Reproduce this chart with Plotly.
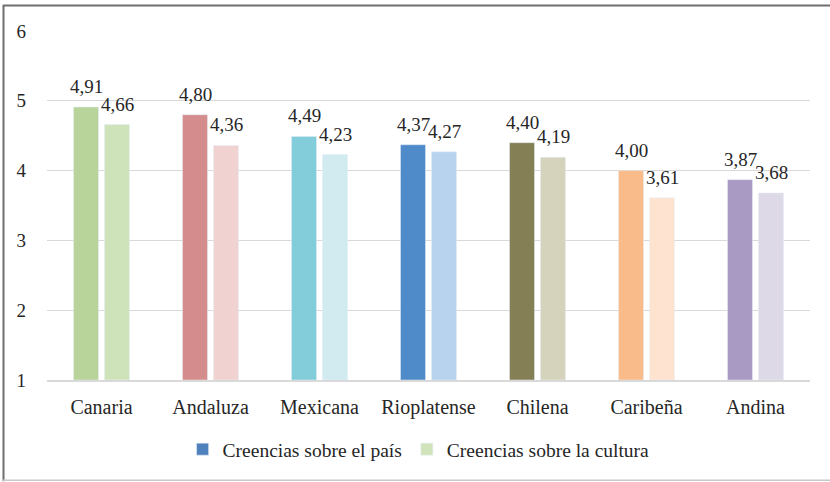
import plotly.graph_objects as go

categories = ["Canaria", "Andaluza", "Mexicana", "Rioplatense", "Chilena", "Caribeña", "Andina"]
pais = [4.91, 4.80, 4.49, 4.37, 4.40, 4.00, 3.87]
cultura = [4.66, 4.36, 4.23, 4.27, 4.19, 3.61, 3.68]
series_names = ["Creencias sobre el país", "Creencias sobre la cultura"]

pais_colors = ["#B8D49B", "#D48D8C", "#82CDD9", "#4F8AC9", "#857F56", "#F9BB89", "#A99AC3"]
cultura_colors = ["#CFE3BA", "#F0D2D0", "#D1EBF1", "#B8D3ED", "#D6D3BC", "#FDE3D0", "#DED9E6"]
legend_colors = ["#4F81BD", "#D0E3BA"]

FONT = "Liberation Serif"
TXT = "#262626"

fig = go.Figure()
fig.add_trace(go.Bar(x=categories, y=[v - 1 for v in pais], base=1, marker_color=pais_colors,
                     offsetgroup="a", showlegend=False, hoverinfo="skip"))
fig.add_trace(go.Bar(x=categories, y=[v - 1 for v in cultura], base=1, marker_color=cultura_colors,
                     offsetgroup="b", showlegend=False, hoverinfo="skip"))
# legend-only entries
fig.add_trace(go.Bar(x=[categories[0]], y=[None], name=series_names[0], marker_color=legend_colors[0],
                     offsetgroup="a"))
fig.add_trace(go.Bar(x=[categories[0]], y=[None], name=series_names[1], marker_color=legend_colors[1],
                     offsetgroup="b"))

def fmt(v):
    return f"{v:.2f}".replace(".", ",")

annotations = []
for cat, a, b in zip(categories, pais, cultura):
    for val, shift in ((a, -15.5), (b, 15.5)):
        annotations.append(dict(x=cat, y=val, xref="x", yref="y", text=fmt(val), showarrow=False,
                                xshift=shift, yanchor="bottom", yshift=8,
                                font=dict(family=FONT, size=19, color=TXT)))

fig.update_layout(
    width=830, height=482,
    margin=dict(l=47, r=20, t=30.5, b=101.5),
    paper_bgcolor="white", plot_bgcolor="white",
    barmode="group", bargap=0.431, bargroupgap=0.194,
    font=dict(family=FONT, color=TXT),
    annotations=annotations,
    legend=dict(orientation="h", x=0.487, xanchor="center", y=-0.199, yanchor="middle",
                font=dict(family=FONT, size=19.5, color=TXT), traceorder="normal", itemwidth=30),
    shapes=[
        dict(type="line", xref="paper", yref="paper", x0=-0.058, x1=1.03, y0=1.0729, y1=1.0729,
             line=dict(color="#6E6E6E", width=2)),
        dict(type="line", xref="paper", yref="paper", x0=-0.0570, x1=-0.0570, y0=1.0729, y1=-0.29,
             line=dict(color="#6E6E6E", width=2)),
        dict(type="line", xref="paper", yref="paper", x0=-0.058, x1=1.03, y0=-0.287, y1=-0.287,
             line=dict(color="#C8C8C8", width=1.5)),
    ],
)
fig.update_yaxes(range=[1, 6], dtick=1, tick0=1, showgrid=True, gridcolor="#D9D9D9", gridwidth=1,
                 zeroline=False, showline=False, ticks="", ticklabelstandoff=20,
                 tickfont=dict(family=FONT, size=19, color=TXT))
fig.update_xaxes(showline=True, linecolor="#D9D9D9", linewidth=1.5, ticks="", showgrid=False,
                 ticklabelstandoff=8, tickfont=dict(family=FONT, size=20, color=TXT))

fig.write_html("out.html", config={"displayModeBar": False},
               post_script="document.body.style.margin='0';")
